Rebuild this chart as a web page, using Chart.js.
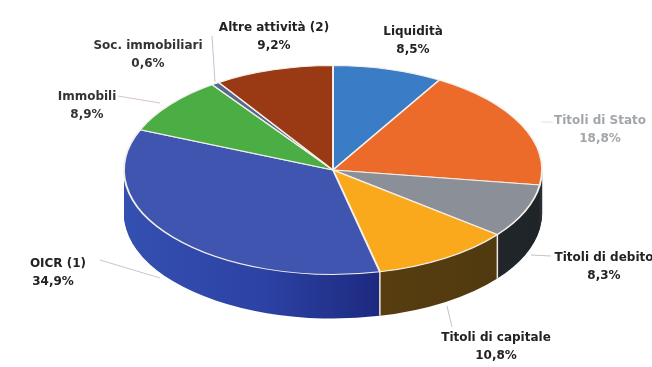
<!DOCTYPE html>
<html lang="it">
<head>
    <meta charset="UTF-8">
    <title>Composizione degli investimenti</title>
    <script src="https://cdn.jsdelivr.net/npm/chart.js"></script>
    <style>
        html, body { margin: 0; padding: 0; background: white; }
        .chart-container { width: 652px; height: 367px; position: relative; overflow: hidden; }
    </style>
</head>
<body>
    <div class="chart-container">
        <canvas id="pieChart" width="652" height="367"></canvas>
    </div>
    <script>
        const categories = ['Liquidità', 'Titoli di Stato', 'Titoli di debito', 'Titoli di capitale', 'OICR (1)', 'Immobili', 'Soc. immobiliari', 'Altre attività (2)'];
        const percentages = [8.5, 18.8, 8.3, 10.8, 34.9, 8.9, 0.6, 9.2];

        const topColors = ['#3b7cc6', '#ec6a2a', '#8b8f97', '#fba91c', '#3f55b0', '#4bae45', '#56688c', '#993a14'];
        const wallColors = [
            ['#1f4270', '#1f4270'],
            ['#2b2f33', '#2b2f33'],
            ['#2f353c', '#1f2429'],
            ['#64460f', '#4f3810'],
            ['#3450b0', '#2c42a4', '#1a2478', '#10144e'],
            ['#2a6426', '#2a6426'],
            ['#333d52', '#333d52'],
            ['#5a220c', '#5a220c']
        ];

        // pie is squashed into an ellipse and extruded downwards
        const flatX = 210 / 170;
        const flatY = 105 / 170;
        const depth = 44;

        const labelFont = 'bold 12px "DejaVu Sans"';
        const labelSpots = [
            { x: 413, y: 32, color: '#222' },
            { x: 600, y: 121, color: '#a2a6aa' },
            { x: 604, y: 258, color: '#222' },
            { x: 496, y: 338, color: '#222' },
            { x: 58, y: 264, color: '#222', pctShift: -5 },
            { x: 87, y: 97, color: '#333' },
            { x: 148, y: 46, color: '#333' },
            { x: 274, y: 28, color: '#222' }
        ];
        const leaders = [
            { from: [118, 96], to: [160, 103], color: '#d8c4bc' },
            { from: [212, 36], to: [215, 82], color: '#b9c6d6' },
            { from: [531, 255], to: [551, 256], color: '#c4c4c4' },
            { from: [447, 306], to: [452, 327], color: '#c4c4c4' },
            { from: [100, 260], to: [160, 278], color: '#c8c8c8' },
            { from: [541, 122], to: [553, 122], color: '#e0e0e0' }
        ];

        function flatten(ctx, meta, offsetY) {
            const first = meta.data[0];
            ctx.translate(first.x, first.y + offsetY);
            ctx.scale(flatX, flatY);
            ctx.translate(-first.x, -first.y);
        }

        function wallFill(ctx, arc, stops) {
            const g = ctx.createLinearGradient(arc.x - arc.outerRadius, 0, arc.x + arc.outerRadius, 0);
            stops.forEach((c, i) => g.addColorStop(i / (stops.length - 1), c));
            return g;
        }

        const pie3d = {
            id: 'pie3d',
            beforeDatasetsDraw(chart) {
                const ctx = chart.ctx;
                const meta = chart.getDatasetMeta(0);

                // stack darker copies of the slices to build the side wall
                for (let dy = depth; dy > 0; dy--) {
                    ctx.save();
                    flatten(ctx, meta, dy);
                    meta.data.forEach((arc, i) => {
                        const own = arc.options;
                        arc.options = { ...own, backgroundColor: wallFill(ctx, arc, wallColors[i]), borderWidth: 0 };
                        arc.draw(ctx);
                        arc.options = own;
                    });
                    ctx.restore();
                }

                ctx.save();
                flatten(ctx, meta, 0);
            },
            afterDatasetsDraw(chart) {
                const ctx = chart.ctx;
                const meta = chart.getDatasetMeta(0);
                ctx.restore();

                ctx.save();
                ctx.lineWidth = 1.5;
                ctx.strokeStyle = '#f0e8dc';
                // seams on the wall where two slices meet at the front
                meta.data.forEach(arc => {
                    const sin = Math.sin(arc.startAngle);
                    if (sin <= 0.3) return;
                    const x = arc.x + arc.outerRadius * flatX * Math.cos(arc.startAngle);
                    const y = arc.y + arc.outerRadius * flatY * sin;
                    ctx.beginPath();
                    ctx.moveTo(x, y);
                    ctx.lineTo(x, y + depth);
                    ctx.stroke();
                });

                ctx.lineWidth = 1;
                leaders.forEach(l => {
                    ctx.strokeStyle = l.color;
                    ctx.beginPath();
                    ctx.moveTo(l.from[0], l.from[1]);
                    ctx.lineTo(l.to[0], l.to[1]);
                    ctx.stroke();
                });

                ctx.font = labelFont;
                ctx.textAlign = 'center';
                ctx.textBaseline = 'middle';
                categories.forEach((name, i) => {
                    const spot = labelSpots[i];
                    ctx.fillStyle = spot.color;
                    ctx.fillText(name, spot.x, spot.y);
                    const pct = percentages[i].toFixed(1).replace('.', ',') + '%';
                    ctx.fillText(pct, spot.x + (spot.pctShift || 0), spot.y + 18);
                });
                ctx.restore();
            }
        };

        new Chart(document.getElementById('pieChart'), {
            type: 'pie',
            data: {
                labels: categories,
                datasets: [{
                    data: percentages,
                    backgroundColor: topColors,
                    borderColor: '#f4f0ea',
                    borderWidth: 1.6,
                    clip: false
                }]
            },
            options: {
                responsive: false,
                animation: false,
                layout: { padding: { left: 14, right: 0, top: 0, bottom: 27 } },
                plugins: { legend: { display: false }, tooltip: { enabled: false } }
            },
            plugins: [pie3d]
        });
    </script>
</body>
</html>
